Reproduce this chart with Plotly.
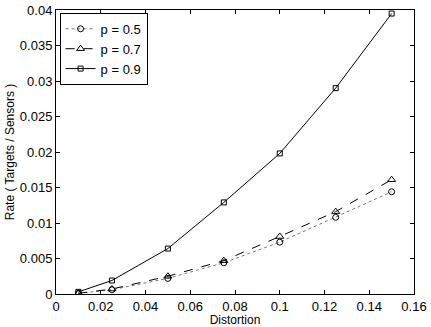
import plotly.graph_objects as go

distortion = [0.01, 0.025, 0.05, 0.075, 0.1, 0.125, 0.15]
rate_p05 = [0.0001, 0.0006, 0.0022, 0.0044, 0.0073, 0.0108, 0.0144]
rate_p07 = [0.0001, 0.0007, 0.0025, 0.0047, 0.0081, 0.0116, 0.0161]
rate_p09 = [0.0003, 0.0019, 0.0064, 0.0129, 0.0198, 0.0290, 0.0395]

x_ticks = [0, 0.02, 0.04, 0.06, 0.08, 0.1, 0.12, 0.14, 0.16]
x_labels = ["0", "0.02", "0.04", "0.06", "0.08", "0.1", "0.12", "0.14", "0.16"]
y_ticks = [0, 0.005, 0.01, 0.015, 0.02, 0.025, 0.03, 0.035, 0.04]
y_labels = ["0", "0.005", "0.01", "0.015", "0.02", "0.025", "0.03", "0.035", "0.04"]

fig = go.Figure()
fig.add_trace(go.Scatter(
    x=distortion, y=rate_p05, name="p = 0.5", mode="lines+markers",
    line=dict(color="#777777", width=1, dash="dot"),
    marker=dict(symbol="circle-open", size=6, color="black", line=dict(width=1)),
))
fig.add_trace(go.Scatter(
    x=distortion, y=rate_p07, name="p = 0.7", mode="lines+markers",
    line=dict(color="black", width=1, dash="dash"),
    marker=dict(symbol="triangle-up-open", size=7, color="black", line=dict(width=1)),
))
fig.add_trace(go.Scatter(
    x=distortion, y=rate_p09, name="p = 0.9", mode="lines+markers",
    line=dict(color="black", width=1),
    marker=dict(symbol="square-open", size=5, color="black", line=dict(width=1)),
))

axis_common = dict(
    showgrid=False, zeroline=False, showline=True, linecolor="black", linewidth=1,
    mirror="ticks", ticks="inside", ticklen=4, tickcolor="black",
    tickfont=dict(size=13, color="black"), automargin=False,
)

fig.update_layout(
    width=431, height=327,
    margin=dict(l=56, r=17, t=10, b=33),
    paper_bgcolor="white", plot_bgcolor="white",
    font=dict(family="Liberation Sans, Arial, sans-serif", color="black"),
    xaxis=dict(range=[0, 0.16], tickvals=x_ticks, ticktext=x_labels,
               title=dict(text="Distortion", font=dict(size=12), standoff=0), **axis_common),
    yaxis=dict(range=[0, 0.04], tickvals=y_ticks, ticktext=y_labels,
               title=dict(text="Rate ( Targets / Sensors )", font=dict(size=12), standoff=2), **axis_common),
    legend=dict(x=0.01, y=0.99, xanchor="left", yanchor="top",
                bordercolor="black", borderwidth=1, bgcolor="white",
                font=dict(size=13), tracegroupgap=0, itemwidth=30),
    showlegend=True,
)

# drop the default page margin so the figure sits at the window's top-left
fig.write_html("out.html", config={"displayModeBar": False},
               post_script="document.body.style.margin='0';")
